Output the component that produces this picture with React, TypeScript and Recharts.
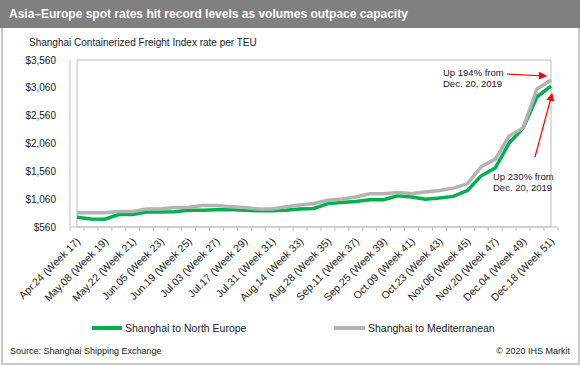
import { LineChart, Line, XAxis, YAxis, ReferenceArea } from "recharts"

const weeks = [
  "Apr.24 (Week 17)", "May.01 (Week 18)", "May.08 (Week 19)", "May.15 (Week 20)", "May.22 (Week 21)",
  "May.29 (Week 22)", "Jun.05 (Week 23)", "Jun.12 (Week 24)", "Jun.19 (Week 25)", "Jun.26 (Week 26)",
  "Jul.03 (Week 27)", "Jul.10 (Week 28)", "Jul.17 (Week 29)", "Jul.24 (Week 30)", "Jul.31 (Week 31)",
  "Aug.07 (Week 32)", "Aug.14 (Week 33)", "Aug.21 (Week 34)", "Aug.28 (Week 35)", "Sep.04 (Week 36)",
  "Sep.11 (Week 37)", "Sep.18 (Week 38)", "Sep.25 (Week 39)", "Oct.02 (Week 40)", "Oct.09 (Week 41)",
  "Oct.16 (Week 42)", "Oct.23 (Week 43)", "Oct.30 (Week 44)", "Nov.06 (Week 45)", "Nov.13 (Week 46)",
  "Nov.20 (Week 47)", "Nov.27 (Week 48)", "Dec.04 (Week 49)", "Dec.11 (Week 50)", "Dec.18 (Week 51)",
]

const northEurope = [
  735, 705, 700, 785, 785, 830, 830, 835, 860, 860,
  870, 875, 862, 850, 850, 860, 885, 892, 980, 998,
  1020, 1050, 1050, 1120, 1100, 1057, 1080, 1110, 1215, 1480,
  1620, 2070, 2340, 2900, 3090,
]

const mediterranean = [
  815, 815, 815, 840, 840, 885, 885, 910, 915, 945,
  945, 925, 910, 885, 885, 925, 955, 981, 1040, 1063,
  1098, 1157, 1157, 1180, 1160, 1187, 1217, 1258, 1335, 1643,
  1780, 2193, 2340, 3040, 3200,
]

const yTicks = [560, 1060, 1560, 2060, 2560, 3060, 3560]

const data = weeks.map((w, i) => ({ week: w, ne: northEurope[i], med: mediterranean[i] }))

const FONT = "'Liberation Sans', Arial, sans-serif"
const GREEN = "#00b050"
const GREY = "#b3b3b3"
const FRAME = "#bfbfbf"

// plot is 488px wide with 7px padding each side -> half a category step
const HALF_STEP = (488 - 14) / (weeks.length - 1) / 2

function WeekTick({ x, y, index }: { x: number; y: number; index: number }) {
  const last = index === weeks.length - 1
  return (
    <g>
      <line x1={x - HALF_STEP} x2={x - HALF_STEP} y1={y - 8} y2={y - 4} stroke={FRAME} />
      {last && <line x1={x + HALF_STEP} x2={x + HALF_STEP} y1={y - 8} y2={y - 4} stroke={FRAME} />}
      {index % 2 === 0 && (
        <text
          x={x + 4}
          y={y + 7}
          transform={`rotate(-45, ${x + 4}, ${y + 7})`}
          textAnchor="end"
          fontSize={10.5}
          fontFamily={FONT}
          fill="#222"
        >
          {weeks[index]}
        </text>
      )}
    </g>
  )
}

export default function App() {
  return (
    <div style={{ position: "absolute", left: 0, top: 0, width: 580, height: 365, background: "#fff", fontFamily: FONT, overflow: "hidden" }}>
      {/* outer frame */}
      <div style={{ position: "absolute", left: 1, top: 26, width: 575, height: 335, border: "2px solid #c8c8c8" }} />
      {/* title bar */}
      <div style={{ position: "absolute", left: 0, top: 0, width: 580, height: 28, background: "#808080", color: "#fff", fontWeight: "bold", fontSize: 12, lineHeight: "28px", paddingLeft: 9, boxSizing: "border-box" }}>
        Asia–Europe spot rates hit record levels as volumes outpace capacity
      </div>
      <div style={{ position: "absolute", left: 29, top: 37, fontSize: 10, color: "#222" }}>
        Shanghai Containerized Freight Index rate per TEU
      </div>

      <div style={{ position: "absolute", left: 0, top: 0 }}>
        <LineChart width={580} height={365} data={data} margin={{ top: 60, right: 22, bottom: 38, left: 0 }}>
          <XAxis
            dataKey="week"
            interval={0}
            padding={{ left: 7, right: 7 }}
            tick={WeekTick as any}
            tickLine={false}
            tickSize={0}
            tickMargin={8}
            axisLine={{ stroke: FRAME }}
            height={100}
          />
          <YAxis
            domain={[560, 3560]}
            ticks={yTicks}
            width={70}
            tickFormatter={(v: number) => `$${v.toLocaleString("en-US")}`}
            tick={{ fontSize: 10, fill: "#222", fontFamily: FONT }}
            tickLine={false}
            tickSize={0}
            tickMargin={14}
            axisLine={{ stroke: FRAME }}
          />
          <ReferenceArea y1={560} y2={3560} fill="#ffffff" fillOpacity={0} stroke={FRAME} strokeOpacity={1} ifOverflow="visible" />
          <Line type="linear" dataKey="ne" stroke={GREEN} strokeWidth={3.5} dot={false} isAnimationActive={false} />
          <Line type="linear" dataKey="med" stroke={GREY} strokeWidth={3.5} dot={false} isAnimationActive={false} />
        </LineChart>
      </div>

      {/* annotations */}
      <div style={{ position: "absolute", left: 443, top: 67, fontSize: 9.5, lineHeight: "11px", color: "#222" }}>
        Up 194% from<br />Dec. 20, 2019
      </div>
      <div style={{ position: "absolute", left: 493, top: 171, fontSize: 9.5, lineHeight: "11px", color: "#222" }}>
        Up 230% from<br />Dec. 20, 2019
      </div>
      <svg width={580} height={365} style={{ position: "absolute", left: 0, top: 0, pointerEvents: "none" }}>
        <defs>
          <marker id="ah" markerWidth="8" markerHeight="8" refX="7" refY="4" orient="auto" markerUnits="userSpaceOnUse">
            <path d="M0,0 L8,4 L0,8 z" fill="#ff0000" />
          </marker>
        </defs>
        <line x1={507} y1={74} x2={546} y2={76} stroke="#ff0000" strokeWidth={1.2} markerEnd="url(#ah)" />
        <line x1={535} y1={157} x2={552} y2={94} stroke="#ff0000" strokeWidth={1.2} markerEnd="url(#ah)" />
      </svg>

      {/* legend */}
      <div style={{ position: "absolute", left: 92, top: 322, display: "flex", alignItems: "center", fontSize: 10.5, color: "#222" }}>
        <span style={{ width: 30, height: 4, background: GREEN, display: "inline-block", marginRight: 3 }} />
        Shanghai to North Europe
      </div>
      <div style={{ position: "absolute", left: 334, top: 322, display: "flex", alignItems: "center", fontSize: 10.5, color: "#222" }}>
        <span style={{ width: 31, height: 4, background: GREY, display: "inline-block", marginRight: 3 }} />
        Shanghai to Mediterranean
      </div>

      <div style={{ position: "absolute", left: 10, top: 346, fontSize: 9, color: "#222" }}>
        Source: Shanghai Shipping Exchange
      </div>
      <div style={{ position: "absolute", right: 10, top: 346, fontSize: 9, color: "#222" }}>
        © 2020 IHS Markit
      </div>
    </div>
  )
}
